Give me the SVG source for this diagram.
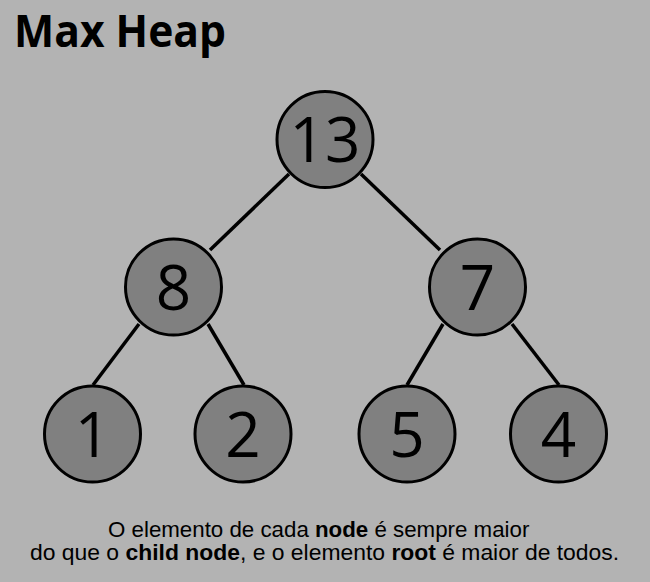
<svg xmlns="http://www.w3.org/2000/svg" width="650" height="582" viewBox="0 0 650 582">
<style>
.node circle{fill:#808080;stroke:#000;stroke-width:3}
.node text{font-family:"Open Sans","DejaVu Sans",sans-serif;font-size:62px;fill:#000;text-anchor:middle}
.edge{stroke:#000;stroke-width:3.5;fill:none}
.cap{font-family:"Liberation Sans",Arial,sans-serif;fill:#000}
.b{font-weight:bold}
</style>
<rect width="650" height="582" fill="#b3b3b3"/>
<text x="14" y="47" font-family="'Open Sans','DejaVu Sans',sans-serif" font-weight="bold" font-size="44" textLength="212" lengthAdjust="spacingAndGlyphs">Max Heap</text>
<g id="connectors">
<line class="edge" x1="289" y1="174" x2="210" y2="250"/>
<line class="edge" x1="361" y1="174" x2="440" y2="250"/>
<line class="edge" x1="139" y1="324" x2="93" y2="385"/>
<line class="edge" x1="208" y1="324" x2="244" y2="385"/>
<line class="edge" x1="443" y1="324" x2="407" y2="385"/>
<line class="edge" x1="512" y1="324" x2="559" y2="385"/>
</g>
<g id="node13" class="node"><circle cx="325" cy="139.5" r="48"/><text x="325" y="162">13</text></g>
<g id="node8" class="node"><circle cx="173.5" cy="287" r="48"/><text x="173.5" y="310">8</text></g>
<g id="node7" class="node"><circle cx="477.5" cy="287" r="48"/><text x="477.5" y="310">7</text></g>
<g id="node1" class="node"><circle cx="92.5" cy="434" r="48"/><text x="92.5" y="457">1</text></g>
<g id="node2" class="node"><circle cx="243" cy="434" r="48"/><text x="243" y="457">2</text></g>
<g id="node5" class="node"><circle cx="407" cy="434" r="48"/><text x="407" y="457">5</text></g>
<g id="node4" class="node"><circle cx="558.5" cy="434" r="48"/><text x="558.5" y="457">4</text></g>
<text class="cap" font-size="22.3" x="108" y="537">O elemento de cada <tspan class="b">node</tspan> é sempre maior</text>
<text class="cap" font-size="22.9" x="30" y="560">do que o <tspan class="b">child node</tspan>, e o elemento <tspan class="b">root</tspan> é maior de todos.</text>
</svg>
